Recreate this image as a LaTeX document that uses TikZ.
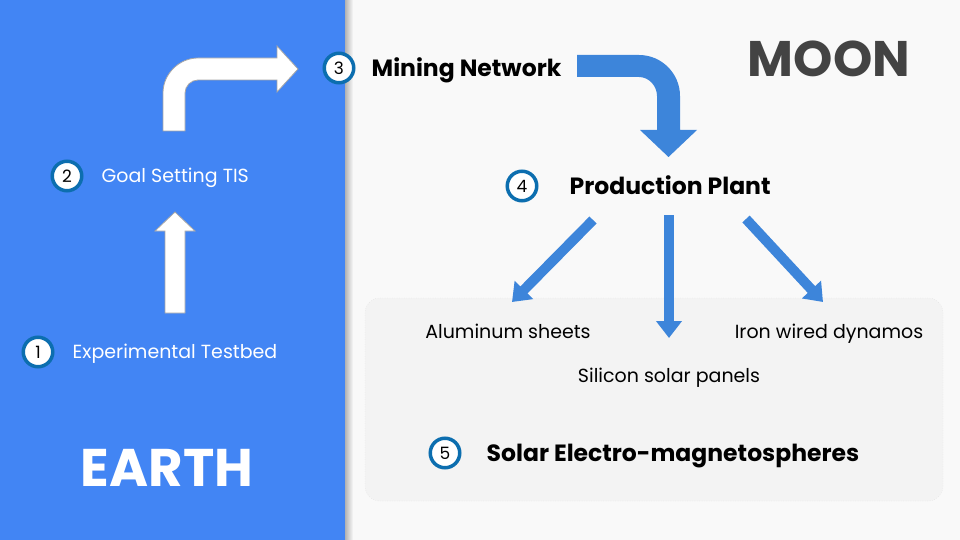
\documentclass[tikz,border=0pt]{standalone}
\usepackage{fontspec}
\setmainfont{Poppins}
\definecolor{earthblue}{RGB}{66,133,244}
\definecolor{moonbg}{RGB}{249,249,249}
\definecolor{boxgray}{RGB}{243,243,243}
\definecolor{ringblue}{RGB}{12,110,175}
\definecolor{flowblue}{RGB}{61,133,218}
\definecolor{moongray}{RGB}{67,67,67}
\usetikzlibrary{arrows.meta,positioning}

\begin{document}
\begin{tikzpicture}[x=1pt,y=-1pt,
  numring/.style={circle, draw=ringblue, line width=3.5pt, fill=white, minimum size=29.5pt, inner sep=0pt, font=\fontsize{17}{17}\selectfont},
  lbl/.style={inner sep=0pt, text height=17pt, text depth=4pt, font=\fontsize{19}{23}\selectfont},
  stagehead/.style={inner sep=0pt, text height=21pt, text depth=4pt, font=\fontsize{23.5}{27}\selectfont\bfseries},
  bigword/.style={inner sep=0pt, font=\fontsize{53}{57}\selectfont\bfseries},
  whitearrow/.style={fill=white, draw=black!35, line width=0.8pt, line join=miter},
  flow/.style={draw=flowblue, line width=10pt, -{Triangle[width=25pt,length=17pt]}}]
  \useasboundingbox (0,0) rectangle (960,540);
  % Backgrounds
  \fill[moonbg] (0,0) rectangle (960,540);
  \fill[earthblue] (0,0) rectangle (345,540);
  \shade[left color=black!30, right color=moonbg] (345,0) rectangle (353,540);
  \filldraw[fill=boxgray, draw=black!15, dotted, rounded corners=15pt] (365,298) rectangle (943,501);
  % Earth side
  \node[numring] (c1) at (38,352) {1};
  \node[lbl, text=white, right=18pt of c1] (testbed) {Experimental Testbed};
  \node[numring] (c2) at (67,176) {2};
  \node[lbl, text=white, right=18pt of c2] (goal) {Goal Setting TIS};
  \node[bigword, text=white] (earth) at (167,468) {EARTH};
  % Up arrow
  \draw[whitearrow] (165,313) -- (165,231) -- (155,231) -- (175,212) -- (195,231) -- (185,231) -- (185,313) -- cycle;
  % Bent arrow to mining
  \draw[whitearrow] (163,131) -- (163,93) .. controls (163,74) and (179,58) .. (198,58) -- (277,58) -- (277,46)
    -- (298,69) -- (277,92) -- (277,80) -- (198,80) .. controls (191,80) and (185,86) .. (185,93) -- (185,131) -- cycle;
  % Moon side
  \node[bigword, text=moongray, font=\fontsize{50}{54}\selectfont\bfseries] (moon) at (829,59) {MOON};
  \node[numring] (c3) at (339,68) {3};
  \node[stagehead, right=16pt of c3] (mining) {Mining Network};
  \node[numring] (c4) at (522,186) {4};
  \node[stagehead, right=31pt of c4] (plant) {Production Plant};
  % Bent arrow to plant
  \fill[flowblue] (577,55) -- (639,55) .. controls (661.6,55) and (680,73.4) .. (680,96) -- (680,130) -- (697,130)
    -- (668.5,157) -- (640,130) -- (657,130) -- (657,96) .. controls (657,86) and (649,77) .. (639,77) -- (577,77) -- cycle;
  % Products
  \node[lbl] (alu) at (508,332) {Aluminum sheets};
  \node[lbl] (iron) at (829,332) {Iron wired dynamos};
  \node[lbl] (silicon) at (669,376) {Silicon solar panels};
  \coordinate (fromL) at (593,220);
  \coordinate (fromM) at (669,215);
  \coordinate (fromR) at (746,219);
  \coordinate (toL) at (512,302);
  \coordinate (toM) at (669,338);
  \coordinate (toR) at (823,302);
  \draw[flow] (fromL) -- (toL);
  \draw[flow] (fromM) -- (toM);
  \draw[flow] (fromR) -- (toR);
  \node[numring] (c5) at (445,453) {5};
  \node[stagehead, right=25pt of c5] (solar) {Solar Electro-magnetospheres};
\end{tikzpicture}
\end{document}
